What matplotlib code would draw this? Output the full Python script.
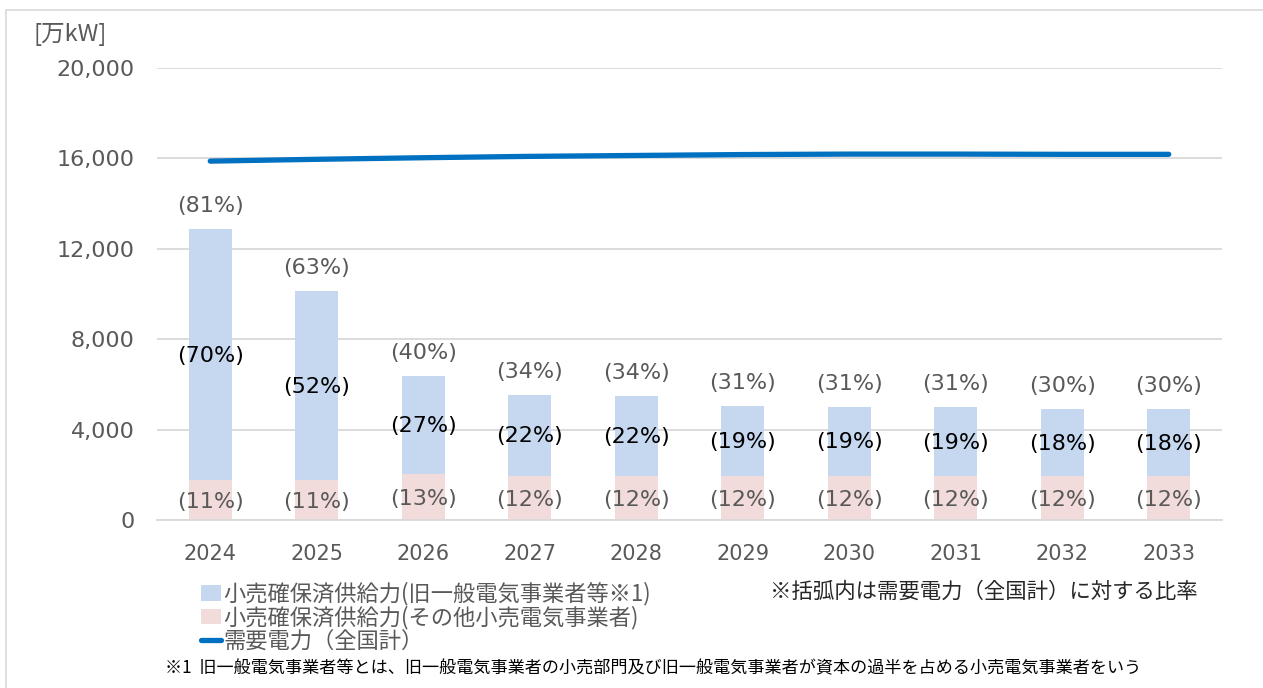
import matplotlib
matplotlib.use("Agg")
import matplotlib.pyplot as plt
from matplotlib.patches import Rectangle, Patch
from matplotlib.lines import Line2D
import numpy as np

# === DATA ===
years = ["2024", "2025", "2026", "2027", "2028", "2029", "2030", "2031", "2032", "2033"]
others = [1770, 1780, 2050, 1960, 1960, 1950, 1950, 1950, 1950, 1950]          # その他小売電気事業者
former = [11100, 8350, 4330, 3580, 3540, 3100, 3060, 3050, 2960, 2960]         # 旧一般電気事業者等
demand = [15880, 15960, 16030, 16090, 16130, 16170, 16190, 16190, 16180, 16180]
pct_total = ["(81%)", "(63%)", "(40%)", "(34%)", "(34%)", "(31%)", "(31%)", "(31%)", "(30%)", "(30%)"]
pct_former = ["(70%)", "(52%)", "(27%)", "(22%)", "(22%)", "(19%)", "(19%)", "(19%)", "(18%)", "(18%)"]
pct_others = ["(11%)", "(11%)", "(13%)", "(12%)", "(12%)", "(12%)", "(12%)", "(12%)", "(12%)", "(12%)"]

# === STYLE ===
BLUE_BAR = "#C6D8F0"
PINK_BAR = "#F2DCDB"
LINE_COL = "#0070C0"
GRAY = "#595959"
GRID = "#D9D9D9"
NUM_FONT = ["DejaVu Sans", "Noto Sans CJK JP"]
JP_FONT = ["Noto Sans CJK JP", "DejaVu Sans"]

W, H = 1263, 688
fig = plt.figure(figsize=(W / 100, H / 100), dpi=100)

# outer frame
fig.patches.append(Rectangle((6 / W, -0.05), 1.2, 1 - 10 / H + 0.05, transform=fig.transFigure,
                             fill=False, edgecolor="#D9D9D9", lw=1.2))

ax = fig.add_axes([157 / W, 1 - 520 / H, (1222 - 157) / W, (520 - 68) / H])

x = np.arange(len(years))
ax.bar(x, others, width=0.4, color=PINK_BAR, zorder=2)
ax.bar(x, former, width=0.4, bottom=others, color=BLUE_BAR, zorder=2)
ax.plot(x, demand, color=LINE_COL, lw=3.8, solid_capstyle="round", zorder=3)

ax.set_xlim(-0.5, len(years) - 0.5)
ax.set_ylim(0, 20000)
ax.set_yticks(range(0, 20001, 4000))
ax.set_yticklabels([f"{v:,}" for v in range(0, 20001, 4000)], fontsize=16, color=GRAY, family=NUM_FONT)
ax.set_xticks(x)
ax.set_xticklabels(years, fontsize=15, color=GRAY, family=NUM_FONT)
ax.tick_params(axis="x", length=0, pad=17)
ax.tick_params(axis="y", length=0, pad=16)
ax.grid(axis="y", color=GRID, lw=1.3, zorder=0)
for s in ["top", "right", "left"]:
    ax.spines[s].set_visible(False)
ax.spines["bottom"].set_color(GRID)
ax.spines["bottom"].set_linewidth(1.3)

# percentage labels
for i in range(len(years)):
    tot = others[i] + former[i]
    ax.annotate(pct_total[i], (x[i], tot), xytext=(0, 16.5), textcoords="offset points",
                ha="center", va="center", fontsize=16, color=GRAY, family=NUM_FONT, zorder=4)
    ax.text(x[i], others[i] + former[i] / 2 - 50, pct_former[i], ha="center", va="center",
            fontsize=16, color="#000000", family=NUM_FONT, zorder=4)
    ax.text(x[i], others[i] / 2 - 80, pct_others[i], ha="center", va="center",
            fontsize=16, color=GRAY, family=NUM_FONT, zorder=4)

# unit
fig.text(33 / W, 1 - 35 / H, "[万kW]", fontsize=17, color=GRAY, family=JP_FONT, va="center", ha="left")

# legend
handles = [Patch(facecolor=BLUE_BAR, edgecolor="none"),
           Patch(facecolor=PINK_BAR, edgecolor="none"),
           Line2D([], [], color=LINE_COL, lw=3.8, solid_capstyle="round")]
labels = ["小売確保済供給力(旧一般電気事業者等※1)",
          "小売確保済供給力(その他小売電気事業者)",
          "需要電力（全国計）"]
leg = fig.legend(handles, labels, loc="upper left", bbox_to_anchor=(201 / W, 1 - 582 / H),
                 frameon=False, handlelength=0.9, handleheight=0.7,
                 handletextpad=0.1, labelspacing=0.0, borderpad=0, borderaxespad=0,
                 prop={"family": JP_FONT, "size": 16})
for t in leg.get_texts():
    t.set_color(GRAY)

fig.text(770 / W, 1 - 592 / H, "※括弧内は需要電力（全国計）に対する比率", fontsize=15.4,
         color="#262626", family=JP_FONT, va="center", ha="left")
fig.text(165 / W, 1 - 668 / H,
         "※1  旧一般電気事業者等とは、旧一般電気事業者の小売部門及び旧一般電気事業者が資本の過半を占める小売電気事業者をいう",
         fontsize=12.3, color="#000000", family=JP_FONT, va="center", ha="left")

fig.savefig("out.png", dpi=100)
